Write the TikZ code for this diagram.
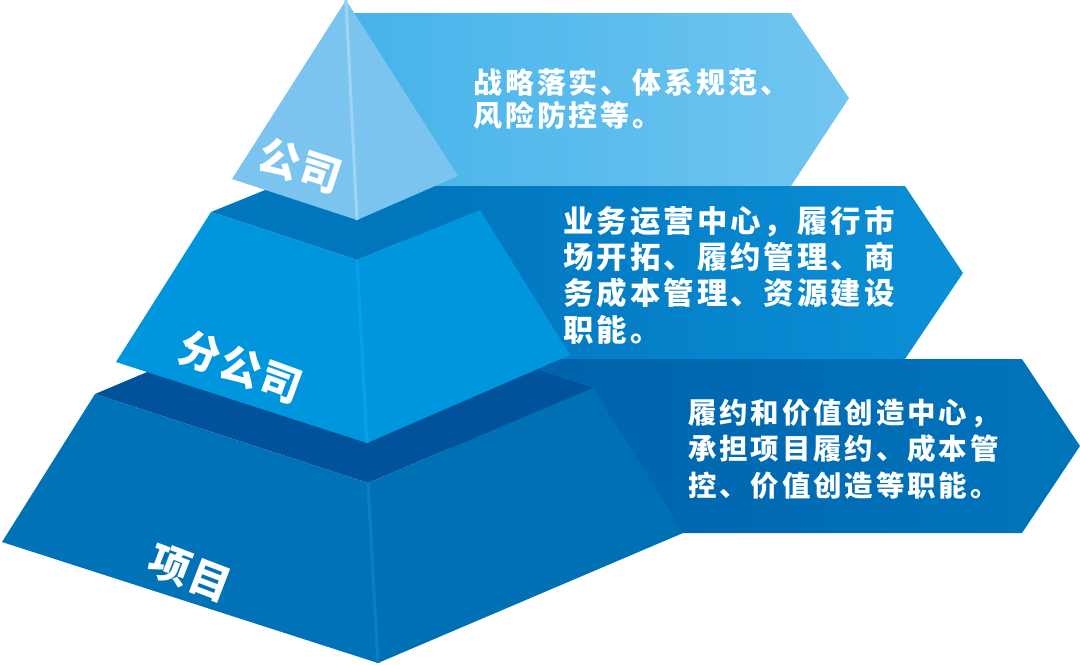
\documentclass[tikz,border=0pt]{standalone}
\usepackage{fontspec}
\usepackage{xcolor}
\usetikzlibrary{positioning}
\newfontfamily\cjk{Noto Sans CJK SC}[LetterSpace=10]
\newfontfamily\cjklabel{Noto Sans CJK SC}[LetterSpace=4]

\definecolor{topface}{HTML}{7AC4EF}
\definecolor{topridge}{HTML}{9DD3F4}
\definecolor{midtop}{HTML}{0076BD}
\definecolor{midface}{HTML}{0096DE}
\definecolor{midridge}{HTML}{0A9EE3}
\definecolor{lowtop}{HTML}{00529A}
\definecolor{lowface}{HTML}{0072B8}
\definecolor{lowridge}{HTML}{0A7DC3}
\definecolor{bannerAl}{HTML}{45B3EA}
\definecolor{bannerAr}{HTML}{72C6F0}
\definecolor{bannerBl}{HTML}{0074BD}
\definecolor{bannerBr}{HTML}{0B90D7}
\definecolor{bannerCl}{HTML}{0060A8}
\definecolor{bannerCr}{HTML}{0075BC}

\tikzset{
    face/.style={fill=#1,draw=none},
    ridge/.style={draw=#1,line width=1.8pt},
    bannertext/.style={text=white,anchor=west,align=left,inner sep=0pt},
    tierlabel/.style={text=white,inner sep=0pt,font=\cjklabel\bfseries\fontsize{23.5pt}{23.5pt}\selectfont}
}

\begin{document}
\begin{tikzpicture}[x=0.02cm,y=-0.02cm]
    \useasboundingbox (0,0) rectangle (1080,664);

    %banners
    \begin{scope}
        \shade[left color=bannerAl,right color=bannerAr] (350,13) -- (791,13) -- (849,98) -- (791,186) -- (350,186) -- cycle;
        \shade[left color=bannerBl,right color=bannerBr] (400,186) -- (905,186) -- (963,273) -- (905,359) -- (400,359) -- cycle;
        \shade[left color=bannerCl,right color=bannerCr] (450,359) -- (1022,359) -- (1080,446) -- (1022,533) -- (450,533) -- cycle;
    \end{scope}

    %level 3
    \coordinate (low1) at (95,394);
    \coordinate (low2) at (368,483);
    \coordinate (low3) at (593,388);
    \coordinate (low4) at (320,299);
    \coordinate (low5) at (2,542);
    \coordinate (low6) at (378,663);
    \coordinate (low7) at (683,533);
    \fill[face=lowtop] (low1) -- (low2) -- (low3) -- (low4) -- cycle;
    \fill[face=lowface] (low1) -- (low2) -- (low6) -- (low5) -- cycle;
    \fill[face=lowface!98!black] (low2) -- (low3) -- (low7) -- (low6) -- cycle;
    \draw[ridge=lowridge] (low2) -- (low6);

    %level 2
    \coordinate (mid1) at (211,212);
    \coordinate (mid2) at (357,260);
    \coordinate (mid3) at (480,210);
    \coordinate (mid4) at (334,162);
    \coordinate (mid5) at (116,362);
    \coordinate (mid6) at (367,443);
    \coordinate (mid7) at (570,355);
    \fill[face=midtop] (mid1) -- (mid2) -- (mid3) -- (mid4) -- cycle;
    \fill[face=midface] (mid1) -- (mid2) -- (mid6) -- (mid5) -- cycle;
    \fill[face=midface] (mid2) -- (mid3) -- (mid7) -- (mid6) -- cycle;
    \draw[ridge=midridge] (mid2) -- (mid6);

    %level 1
    \coordinate (apex) at (346,0);
    \coordinate (top1) at (232,179);
    \coordinate (top2) at (357,220);
    \coordinate (top3) at (458,176);
    \fill[face=topface] (apex) -- (top1) -- (top2) -- cycle;
    \fill[face=topface] (apex) -- (top2) -- (top3) -- cycle;
    \draw[ridge=topridge] (apex) -- (top2);

    %labels
    \node[tierlabel,rotate=-18] (lbltop) at (300,166) {公司};
    \node[tierlabel,rotate=-20] (lblmid) at (241,367) {分公司};
    \node[tierlabel,rotate=-21] (lbllow) at (190,573) {项目};

    %texts
    \node[bannertext,font=\cjk\bfseries\fontsize{16.5pt}{18.7pt}\selectfont] (txttop) at (473,99)
        {战略落实、体系规范、\\风险防控等。};
    \node[bannertext,font=\cjk\bfseries\fontsize{17.3pt}{20.7pt}\selectfont] (txtmid) at (563,275)
        {业务运营中心，履行市\\场开拓、履约管理、商\\务成本管理、资源建设\\职能。};
    \node[bannertext,font=\cjk\bfseries\fontsize{16.2pt}{20.7pt}\selectfont] (txtlow) at (688,449)
        {履约和价值创造中心，\\承担项目履约、成本管\\控、价值创造等职能。};
\end{tikzpicture}
\end{document}
